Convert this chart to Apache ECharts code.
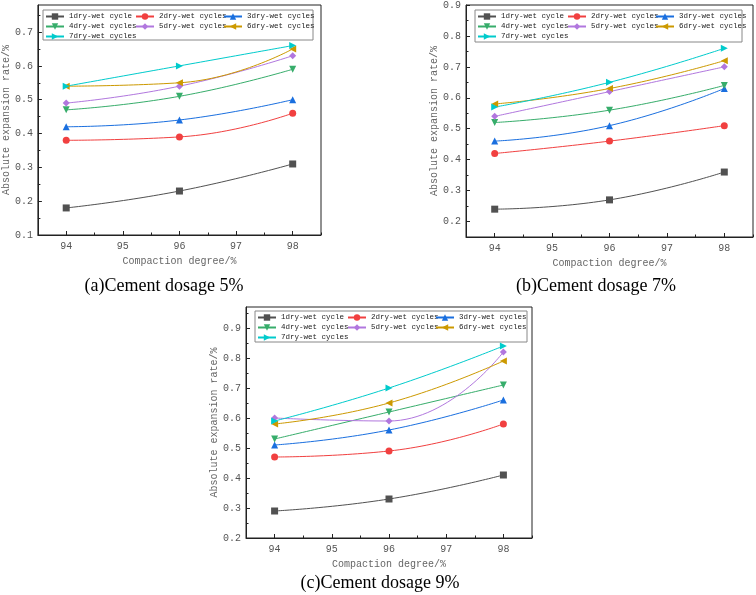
<!DOCTYPE html>
<html>
<head>
<meta charset="utf-8">
<script src="https://cdn.jsdelivr.net/npm/echarts@6/dist/echarts.min.js"></script>
<style>
  html, body { margin: 0; padding: 0; background: #fff; }
  #main { width: 756px; height: 595px; }
</style>
</head>
<body>
<div id="main"></div>
<script>
// data
const seriesNames = [
  "1dry-wet cycle", "2dry-wet cycles", "3dry-wet cycles", "4dry-wet cycles",
  "5dry-wet cycles", "6dry-wet cycles", "7dry-wet cycles"
];
const compaction = [94, 96, 98];
const xTicks = [94, 95, 96, 97, 98];

const dosage5 = [
  [0.18, 0.23, 0.31],
  [0.38, 0.39, 0.46],
  [0.42, 0.44, 0.50],
  [0.47, 0.51, 0.59],
  [0.49, 0.54, 0.63],
  [0.54, 0.55, 0.65],
  [0.54, 0.60, 0.66]
];
const dosage7 = [
  [0.24, 0.27, 0.36],
  [0.42, 0.46, 0.51],
  [0.46, 0.51, 0.63],
  [0.52, 0.56, 0.64],
  [0.54, 0.62, 0.70],
  [0.58, 0.63, 0.72],
  [0.57, 0.65, 0.76]
];
const dosage9 = [
  [0.29, 0.33, 0.41],
  [0.47, 0.49, 0.58],
  [0.51, 0.56, 0.66],
  [0.53, 0.62, 0.71],
  [0.60, 0.59, 0.82],
  [0.58, 0.65, 0.79],
  [0.59, 0.70, 0.84]
];

const yTicks5 = [0.1, 0.2, 0.3, 0.4, 0.5, 0.6, 0.7];
const yTicks7 = [0.2, 0.3, 0.4, 0.5, 0.6, 0.7, 0.8, 0.9];
const yTicks9 = [0.2, 0.3, 0.4, 0.5, 0.6, 0.7, 0.8, 0.9];

const captions = ["(a)Cement dosage 5%", "(b)Cement dosage 7%", "(c)Cement dosage 9%"];

// styling
const colors = ["#515151", "#F14040", "#1A6FDF", "#37AD6B", "#B177DE", "#CC9900", "#00CBCC"];
const symbols = [
  "rect", "circle", "triangle",
  "path://M0,0L10,0L5,9Z",
  "diamond",
  "path://M9,0L9,10L0,5Z",
  "path://M0,0L0,10L9,5Z"
];
const mono = "'Liberation Mono', 'DejaVu Sans Mono', monospace";

const panels = [
  { values: dosage5, yTicks: yTicks5, grid: { left: 36, top: 5, width: 285, height: 230 },
    yMin: 0.1, yMax: 0.78, yNameGap: 24, legend: { x: 43, y: 10, w: 270, h: 30 },
    caption: { x: 164, y: 286 } },
  { values: dosage7, yTicks: yTicks7, grid: { left: 466, top: 5, width: 287, height: 232 },
    yMin: 0.15, yMax: 0.9, yNameGap: 23, legend: { x: 475, y: 10, w: 267, h: 32 },
    caption: { x: 596, y: 286 } },
  { values: dosage9, yTicks: yTicks9, grid: { left: 246, top: 307, width: 286, height: 231 },
    yMin: 0.2, yMax: 0.97, yNameGap: 21, legend: { x: 255, y: 311, w: 272, h: 31 },
    caption: { x: 380, y: 583 } }
];

function minorOf(ticks, lo, hi) {
  const step = ticks[1] - ticks[0];
  const out = [];
  const first = ticks[0] - step / 2;
  if (first >= lo) out.push(first);
  for (let i = 0; i < ticks.length - 1; i++) out.push((ticks[i] + ticks[i + 1]) / 2);
  const last = ticks[ticks.length - 1] + step / 2;
  if (last <= hi) out.push(last);
  return out;
}

const grid = [], xAxis = [], yAxis = [], series = [], legend = [], graphic = [];

panels.forEach((p, pi) => {
  grid.push(Object.assign({ show: true, borderColor: "#222", borderWidth: 1, backgroundColor: "transparent" }, p.grid));

  xAxis.push({
    type: "value", gridIndex: pi, position: "bottom", min: 93.5, max: 98.5,
    name: "Compaction degree/%", nameLocation: "middle", nameGap: 21,
    nameTextStyle: { fontFamily: mono, fontSize: 10, color: "#666" },
    axisLine: { lineStyle: { color: "#222", width: 1 } },
    axisTick: { inside: true, length: 4, customValues: xTicks, lineStyle: { color: "#222" } },
    axisLabel: { customValues: xTicks, margin: 6, fontFamily: mono, fontSize: 10, color: "#555" },
    splitLine: { show: false }
  });
  xAxis.push({
    type: "value", gridIndex: pi, position: "bottom", offset: 0, min: 93.5, max: 98.5,
    axisLine: { show: false },
    axisTick: { inside: true, length: 2.5, customValues: minorOf(xTicks, 93.5, 98.5), lineStyle: { color: "#222" } },
    axisLabel: { show: false },
    splitLine: { show: false }
  });

  yAxis.push({
    type: "value", gridIndex: pi, position: "left", min: p.yMin, max: p.yMax,
    name: "Absolute expansion rate/%", nameLocation: "middle", nameGap: p.yNameGap,
    nameTextStyle: { fontFamily: mono, fontSize: 10, color: "#666" },
    axisLine: { show: true, lineStyle: { color: "#222", width: 1 } },
    axisTick: { show: true, inside: true, length: 4, customValues: p.yTicks, lineStyle: { color: "#222" } },
    axisLabel: { customValues: p.yTicks, margin: 5, fontFamily: mono, fontSize: 10, color: "#555",
      formatter: v => v.toFixed(1) },
    splitLine: { show: false }
  });
  yAxis.push({
    type: "value", gridIndex: pi, position: "left", offset: 0, min: p.yMin, max: p.yMax,
    axisLine: { show: false },
    axisTick: { show: true, inside: true, length: 2.5, customValues: minorOf(p.yTicks, p.yMin, p.yMax), lineStyle: { color: "#222" } },
    axisLabel: { show: false },
    splitLine: { show: false }
  });

  p.values.forEach((vals, si) => {
    series.push({
      type: "line", name: seriesNames[si],
      xAxisIndex: pi * 2, yAxisIndex: pi * 2,
      data: compaction.map((x, i) => [x, vals[i]]),
      smooth: true,
      symbol: symbols[si], symbolSize: 7,
      lineStyle: { color: colors[si], width: 1 },
      itemStyle: { color: colors[si] },
      z: 3
    });
  });

  const L = p.legend;
  graphic.push({
    type: "rect", shape: { x: L.x, y: L.y, width: L.w, height: L.h },
    style: { fill: "#fff", stroke: "#888", lineWidth: 1 }, z: 1
  });
  const cols = [[0, 3, 6], [1, 4], [2, 5]];
  const colOffsets = [2, 92, 180];
  cols.forEach((idx, ci) => {
    legend.push({
      orient: "vertical", left: L.x + colOffsets[ci], top: L.y + 2.5, padding: 0,
      itemWidth: 18, itemHeight: 8, itemGap: 2,
      data: idx.map(i => seriesNames[i]),
      textStyle: { fontFamily: mono, fontSize: 7.5, color: "#222" },
      selectedMode: false, z: 5
    });
  });

  graphic.push({
    type: "text", x: p.caption.x, y: p.caption.y,
    style: { text: captions[pi], font: "18px 'Liberation Serif', 'Times New Roman', serif",
      fill: "#000", textAlign: "center", textVerticalAlign: "middle" }
  });
});

const chart = echarts.init(document.getElementById("main"), null, { renderer: "canvas" });
chart.setOption({
  animation: false,
  backgroundColor: "#fff",
  grid, xAxis, yAxis, series, legend, graphic
});
</script>
</body>
</html>
